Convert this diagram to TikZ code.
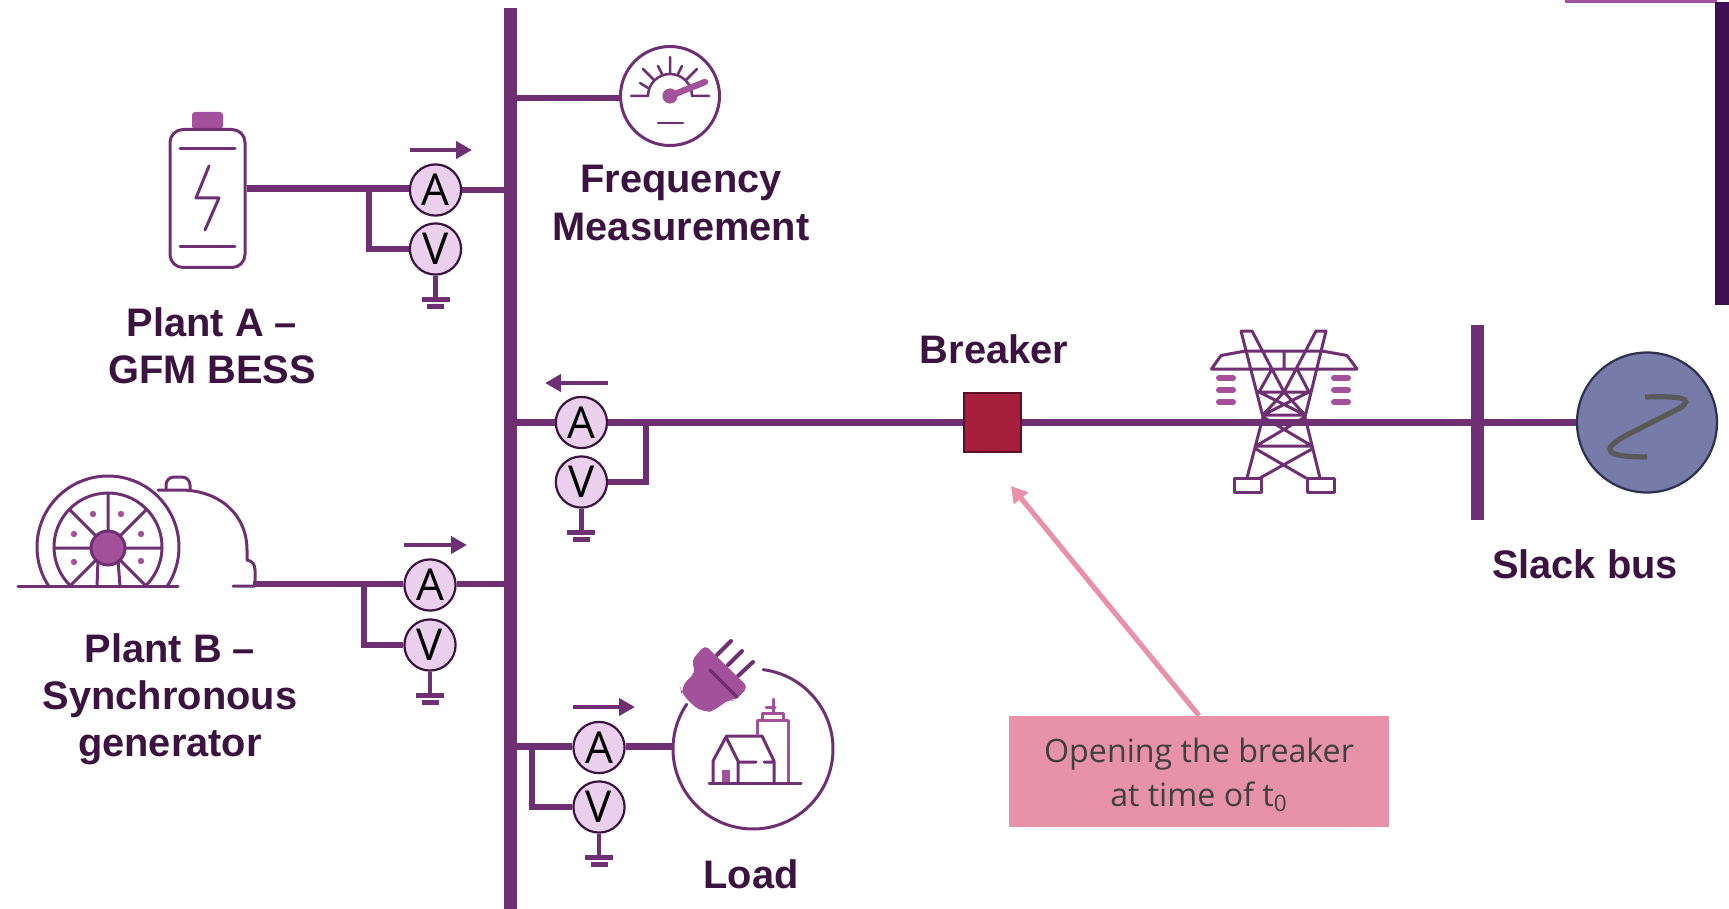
\documentclass[tikz,border=0pt]{standalone}
\usepackage{fontspec}
\setmainfont{Liberation Sans}
\newfontfamily\opensans{Open Sans}
\usetikzlibrary{arrows.meta,calc}
\definecolor{pur}{HTML}{6F2F73}
\definecolor{lpur}{HTML}{A4519B}
\definecolor{dpur}{HTML}{3C1053}
\definecolor{txt}{HTML}{3B1240}
\definecolor{mfill}{HTML}{EAD0EC}
\definecolor{pinkc}{HTML}{E892A9}
\definecolor{brk}{HTML}{A6203E}
\definecolor{brkd}{HTML}{5A0F22}
\definecolor{genc}{HTML}{767BA8}
\definecolor{gend}{HTML}{2D3050}
\tikzset{
  wire/.style={draw=pur,line width=3.4pt,line join=miter},
  vwire/.style={draw=pur,line width=3pt,line join=miter},
  icon/.style={draw=pur,line width=1.5pt,line cap=round,line join=round},
  thinicon/.style={draw=pur,line width=1.25pt,line cap=round,line join=round},
  licon/.style={draw=lpur,line width=1.5pt,line cap=round,line join=round},
  meter/.style={circle,draw=txt,fill=mfill,line width=1.1pt,minimum size=25.6pt,inner sep=0pt,font=\opensans\fontsize{22}{22}\selectfont,text=black},
  flowarrow/.style={draw=pur,fill=pur,line width=2pt,-{Triangle[length=8pt,width=8.5pt]}},
  barnode/.style={rectangle,fill=pur,inner sep=0pt,outer sep=0pt},
  lbl/.style={align=center,text=txt,font=\bfseries\fontsize{19.9}{23.6}\selectfont,inner sep=0pt},
}
\newcommand{\mygnd}[1]{%
  \draw[draw=pur,line width=2.2pt] (#1.south) -- ++(0,22);
  \fill[pur] ($(#1.south)+(-14,21)$) rectangle ++(28,5);
  \fill[pur] ($(#1.south)+(-8.5,28)$) rectangle ++(17,5);
}
\begin{document}
\begin{tikzpicture}[x=0.5pt,y=-0.5pt]
\useasboundingbox (0,0) rectangle (1729,909);
% corner decoration
\fill[lpur] (1565,0) rectangle (1717,3);
\fill[dpur] (1715,2) rectangle (1729,305);
% buses
\node[barnode,minimum width=6.5pt,minimum height=450.5pt] (bus) at (510.5,458.5) {};
\node[barnode,minimum width=6.5pt,minimum height=97.5pt] (slackbus) at (1477.5,422.5) {};
% frequency gauge
\node[circle,draw=pur,line width=1.5pt,minimum size=49.5pt,inner sep=0pt] (gauge) at (670,96) {};
\coordinate (gp) at (620,98);
\draw[wire] (gp) -- (gp -| bus.east);
\draw[thinicon] (631,96) -- (648,96) arc[start angle=180,end angle=0,radius=11pt] -- (709,96);
\draw[thinicon] (670,57) -- (670,73) (643,69) -- (654,80) (697,69) -- (686,80) (658,66) -- (662,74) (682,66) -- (678,74) (640,83) -- (648,88);
\draw[thinicon] (658,123) -- (683,123);
\draw[draw=lpur,line width=3.2pt,line cap=round] (670,96) -- (705,82);
\fill[lpur] (670,96) circle[radius=3.8pt];
% battery
\fill[lpur,rounded corners=1.5pt] (192,129) -- (192,112) -- (223,112) -- (223,129) -- cycle;
\node[rectangle,rounded corners=6.5pt,draw=pur,fill=white,line width=1.5pt,minimum width=37.5pt,minimum height=69pt,inner sep=0pt] (batt) at (207.5,198.5) {};
\draw[icon] (180,149) -- (235,149) (180,247) -- (235,247);
\draw[icon] (209,166) -- (196,198) -- (219,198) -- (205,230);
% generator
\draw[icon] ($(108,547)+(213.3:35.5pt)$) arc[start angle=213.3,end angle=-33.3,radius=35.5pt];
\draw[icon] ($(108,547)+(226.2:27pt)$) arc[start angle=226.2,end angle=-46.2,radius=27pt];
\draw[icon] (18,586) -- (178,586);
\coordinate (hub) at (108,548);
\draw[icon] (hub) -- ++(90:27pt) (hub) -- ++(0:27pt) (hub) -- ++(180:27pt) (hub) -- ++(45:27pt) (hub) -- ++(135:27pt) (hub) -- ++(-45:27pt) (hub) -- ++(-135:27pt) (97,586) -- (98,560) (120,586) -- (118,560);
\filldraw[fill=lpur,draw=pur,line width=1.5pt] (hub) circle[radius=8.5pt];
\foreach \p in {(93,514),(121,514),(74,534),(141,534),(74,562),(141,561)} \fill[lpur] \p circle[radius=1.6pt];
\draw[icon] (158,490) -- (180,490) .. controls (220,490) and (247,515) .. (247,550) -- (247,560) .. controls (252,561) and (255,564) .. (255,570) -- (255,586) (233,586) -- (255,586);
\draw[icon,rounded corners=4pt] (166,490) -- (166,477) -- (190,477) -- (190,490);
% tower
\draw[icon]
 (1241,331) -- (1252,331) -- (1284,392) (1241,331) -- (1263,417) -- (1247,478)
 (1326,331) -- (1316,331) -- (1284,392) (1326,331) -- (1305,417) -- (1320,478)
 (1245.5,351) -- (1322,351) -- (1347,355.5) -- (1357,369) -- (1211.5,369) -- (1221,355.5) -- (1245.5,351)
 (1284,351) -- (1284,369) (1259,392) -- (1309,392) (1259,392) -- (1272,369) (1309,392) -- (1297,369)
 (1284,392) -- (1263,415) (1284,392) -- (1305,415) (1259,392) -- (1305,415) (1309,392) -- (1263,415)
 (1263,415) -- (1305,415) (1263,417) -- (1312,446) (1305,417) -- (1256,446) (1256,446) -- (1312,446)
 (1256,449) -- (1306,478) (1312,449) -- (1260,478);
\draw[icon] (1234,478) rectangle (1261,492) (1307,478) rectangle (1334,492);
\foreach \yy in {378,390,402} {\draw[draw=lpur,line width=3pt,line cap=round] (1219,\yy) -- (1233,\yy) (1334,\yy) -- (1348,\yy);}
% load
\coordinate (loadc) at (753,749);
\draw[icon] ($(loadc)+(82.7:40pt)$) arc[start angle=82.7,end angle=-214,radius=40pt];
\coordinate (loadw) at (673,746);
\draw[icon] (713,783) -- (713,761) -- (726,737) -- (738,761) -- (738,783);
\draw[icon] (726,736) -- (762,736) -- (774,761) -- (774,783) (739,762) -- (756,762) (764,762) -- (773,762);
\fill[lpur] (722,770) rectangle (730,783);
\draw[licon] (757,735) -- (757,720) -- (788,720) -- (788,783);
\draw[licon] (762,720) -- (762,713) -- (783,713) -- (783,720) (766,707) -- (775,707) (773,699) -- (773,713);
\draw[icon] (709,783) -- (801,783);
\draw[draw=pur,line width=2pt,line cap=round] (717,655) -- (731,641) (728,665) -- (742,651) (738,676) -- (753,662);
\fill[lpur,rounded corners=2.5pt] (705,645) -- (748,687) -- (735,701) -- (730,699) -- (713,711) [rounded corners=5pt] -- (702,713) -- (682,695) -- (680,687) [rounded corners=2.5pt] -- (695,673) -- (692,660) -- cycle;
\draw[draw=pur,line width=1.6pt,line cap=round] (710,670) -- (737,697);
% meters
\node[meter] (a1) at (435.5,190) {A};
\node[meter] (v1) at (435.5,249) {V};
\node[meter] (a2) at (581.4,422.5) {A};
\node[meter] (v2) at (581.4,482) {V};
\node[meter] (a3) at (430,585) {A};
\node[meter] (v3) at (430,645) {V};
\node[meter] (a4) at (599,747.5) {A};
\node[meter] (v4) at (599,807) {V};
% breaker, source
\node[rectangle,fill=brk,draw=brkd,line width=1pt,minimum width=28.5pt,minimum height=29.5pt,inner sep=0pt] (breaker) at (992,422.5) {};
\node[circle,fill=genc,draw=gend,line width=1.1pt,minimum size=70pt,inner sep=0pt] (gen) at (1647,422.5) {};
\draw[draw=black!65,line width=2.6pt] (1645,397) .. controls (1680,396) and (1695,398) .. (1680,408) -- (1625,436) .. controls (1600,450) and (1605,457) .. (1647,457);
% wires
\coordinate (b1) at (247,188.5);
\coordinate (j1) at (369,189);
\draw[wire] (batt.east |- b1) -- (a1.west |- b1);
\draw[wire] (a1) -- (a1 -| bus.west);
\draw[vwire] (j1) -- (j1 |- v1) -- (v1.west);
\coordinate (j2) at (646,422.5);
\draw[wire] (a2) -- (a2 -| bus.east);
\draw[wire] (a2) -- (breaker);
\draw[vwire] (j2) -- (j2 |- v2) -- (v2.east);
\draw[wire] (breaker) -- (slackbus);
\draw[wire] (slackbus) -- (gen);
\coordinate (b3) at (253,584);
\coordinate (j3) at (364,584);
\draw[wire] (b3) -- (a3.west |- b3);
\draw[wire] (a3.east |- b3) -- (b3 -| bus.west);
\draw[vwire] (j3) -- (j3 |- v3) -- (v3.west);
\coordinate (j4) at (532,746.5);
\draw[wire] (a4.west |- j4) -- (j4 -| bus.east);
\draw[wire] (a4.east |- j4) -- (loadw |- j4);
\draw[vwire] (j4) -- (j4 |- v4) -- (v4.west);
\mygnd{v1}\mygnd{v2}\mygnd{v3}\mygnd{v4}
% flow arrows
\coordinate (f1s) at (410,150); \coordinate (f1e) at (472,150);
\coordinate (f2s) at (608,383); \coordinate (f2e) at (545,383);
\coordinate (f3s) at (404,545); \coordinate (f3e) at (467,545);
\coordinate (f4s) at (573,707); \coordinate (f4e) at (635,707);
\draw[flowarrow] (f1s) -- (f1e);
\draw[flowarrow] (f2s) -- (f2e);
\draw[flowarrow] (f3s) -- (f3e);
\draw[flowarrow] (f4s) -- (f4e);
% callout
\node[rectangle,fill=pinkc,minimum width=190pt,minimum height=55.5pt,inner sep=0pt] (callout) at (1199,771.5) {};
\node[inner sep=0pt,align=center,text=black!75,font=\opensans\fontsize{16.1}{21.9}\selectfont] (callouttext) at (1199,775) {Opening the breaker\\at time of t\textsubscript{0}};
\coordinate (tip) at (1011,486);
\draw[draw=pinkc,line width=2.6pt,-{Triangle[length=8pt,width=9pt]}] (callout.north) -- (tip);
% labels
\node[lbl] (l1) at (212,345.5) {Plant A --\\GFM BESS};
\node[lbl] (l2) at (681,203) {Frequency\\Measurement};
\node[lbl] (l3) at (994,349) {Breaker};
\node[lbl] (l4) at (1585,564) {Slack bus};
\node[lbl] (l5) at (170,699) {Plant B --\\Synchronous\\generator};
\node[lbl] (l6) at (751,874) {Load};
\end{tikzpicture}
\end{document}
